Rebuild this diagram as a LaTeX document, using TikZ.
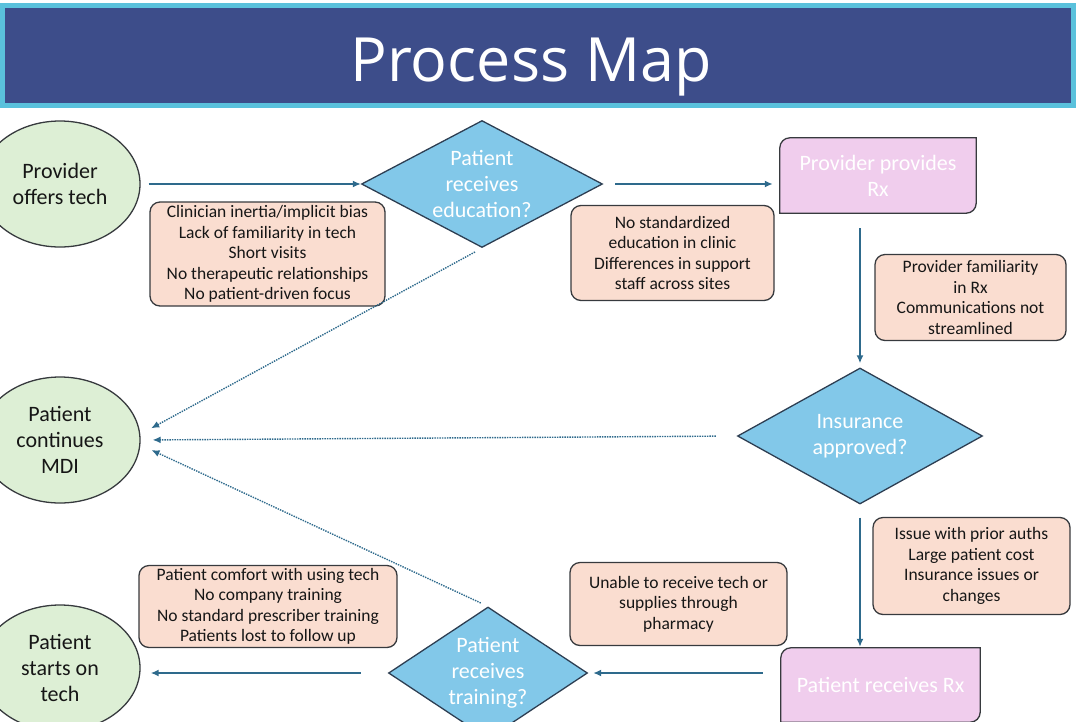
\documentclass[tikz,border=0pt]{standalone}
\usepackage{fontspec}
\setmainfont{Carlito}
\newfontfamily\headfont{Open Sans}
\usepackage{tikz}
\usetikzlibrary{positioning,shapes.geometric,arrows.meta,backgrounds}
\definecolor{barcyan}{RGB}{90,193,220}
\definecolor{barnavy}{RGB}{61,77,138}
\definecolor{termgreen}{RGB}{221,239,213}
\definecolor{askblue}{RGB}{130,200,233}
\definecolor{askedge}{RGB}{45,62,82}
\definecolor{rxpink}{RGB}{240,205,237}
\definecolor{notepeach}{RGB}{250,221,208}
\definecolor{edgegray}{RGB}{55,58,62}
\definecolor{inkgray}{RGB}{22,22,22}
\definecolor{flowblue}{RGB}{46,106,140}

\begin{document}
\begin{tikzpicture}[x=1pt,y=-1pt,
        endpt/.style={ellipse, draw=edgegray, line width=1.3pt, fill=termgreen, minimum width=160pt, minimum height=126pt, inner sep=0pt, align=center, text=inkgray, font=\fontsize{22}{26}\selectfont},
        ask/.style={diamond, draw=askedge, line width=1.3pt, fill=askblue, inner sep=0pt, align=center, text=white, font=\fontsize{22}{26}\selectfont},
        rxbox/.style={rectangle, inner sep=0pt, align=center, text=white, font=\fontsize{22}{26}\selectfont},
        note/.style={rectangle, rounded corners=10pt, draw=edgegray, line width=1.3pt, fill=notepeach, inner sep=0pt, align=center, text=inkgray, font=\fontsize{17.5}{20.5}\selectfont},
        flow/.style={draw=flowblue, line width=1.8pt, -{Latex[length=8pt,width=7pt]}},
        fallback/.style={flow, line width=1.4pt, dash pattern=on 1.4pt off 1.1pt}]
    \useasboundingbox (0,0) rectangle (1076,721);
    \filldraw[draw=barcyan, line width=5pt, fill=barnavy] (2.5,5.5) rectangle (1073.5,105);
    \node[anchor=base, text=white, font=\headfont\fontsize{61}{64}\selectfont] (title) at (531,81) {Process Map};

    \foreach \nm/\y/\txt in {offer/184/{Provider\\offers tech}, mdi/440/{Patient\\continues\\MDI}, start/668/{Patient\\starts on\\tech}}{%
            \node[endpt] (\nm) at (60,\y) {\txt};
        }
    \node[ask, shape aspect=1.9, minimum width=241pt, minimum height=127pt] (edu) at (482,184) {Patient\\receives\\education?};
    \node[ask, shape aspect=1.8, minimum width=245pt, minimum height=136pt] (ins) at (860,436) {Insurance\\approved?};
    \node[ask, shape aspect=1.5, minimum width=199pt, minimum height=132pt] (train) at (488,673) {Patient\\receives\\training?};
    \node[rxbox, minimum width=196pt, minimum height=75pt] (prov) at (878,175.5) {Provider provides\\Rx};
    \node[rxbox, minimum width=199pt, minimum height=74pt] (rx) at (880.5,685) {Patient receives Rx};
    \begin{scope}[on background layer]
        \foreach \b in {prov,rx}{%
                \filldraw[draw=edgegray, line width=1.3pt, fill=rxpink] (\b.north east) -- ([yshift=10pt]\b.south east) arc[start angle=0, end angle=-90, radius=10pt] -- (\b.south west) -- ([yshift=-10pt]\b.north west) arc[start angle=180, end angle=90, radius=10pt] -- cycle;
            }
    \end{scope}

    \foreach \nm/\x/\y/\w/\h/\txt in {%
            note1/267.5/254/235/104/{Clinician inertia/implicit bias\\Lack of familiarity in tech\\Short visits\\No therapeutic relationships\\No patient-driven focus},
            note2/672.5/253/203/95/{No standardized\\education in clinic\\Differences in support\\staff across sites},
            note3/970.5/297.5/191/86/{Provider familiarity\\in Rx\\Communications not\\streamlined},
            note4/971.5/566/197/97/{Issue with prior auths\\Large patient cost\\Insurance issues or\\changes},
            note5/678.5/604/217/83/{Unable to receive tech or\\supplies through\\pharmacy},
            note6/268/606.5/258/82/{Patient comfort with using tech\\No company training\\No standard prescriber training\\Patients lost to follow up}}{%
            \node[note, minimum width=\w pt, minimum height=\h pt] (\nm) at (\x,\y) {\txt};
        }

    \draw[flow, shorten <=8pt] (offer.east) -- (edu.west);
    \draw[flow, shorten <=12pt, shorten >=7pt] (edu.east) -- (edu.east -| prov.west);
    \draw[flow, shorten <=15pt, shorten >=4pt] (prov.south -| ins.north) -- (ins.north);
    \draw[flow, shorten <=13pt, shorten >=1pt] (ins.south) -- (ins.south |- rx.north);
    \draw[flow, shorten <=18pt, shorten >=5pt] (rx.west |- train.east) -- (train.east);
    \draw[flow, shorten <=27pt, shorten >=10pt] (train.west) -- (train.west -| start.east);
    \draw[fallback, shorten <=8pt, shorten >=12pt] (edu.south) -- ([yshift=6pt]mdi.east);
    \draw[fallback, shorten <=21pt, shorten >=12pt] (ins.west) -- (mdi.east);
    \draw[fallback, shorten <=8pt, shorten >=12pt] (train.north) -- ([yshift=-5pt]mdi.east);
\end{tikzpicture}
\end{document}
